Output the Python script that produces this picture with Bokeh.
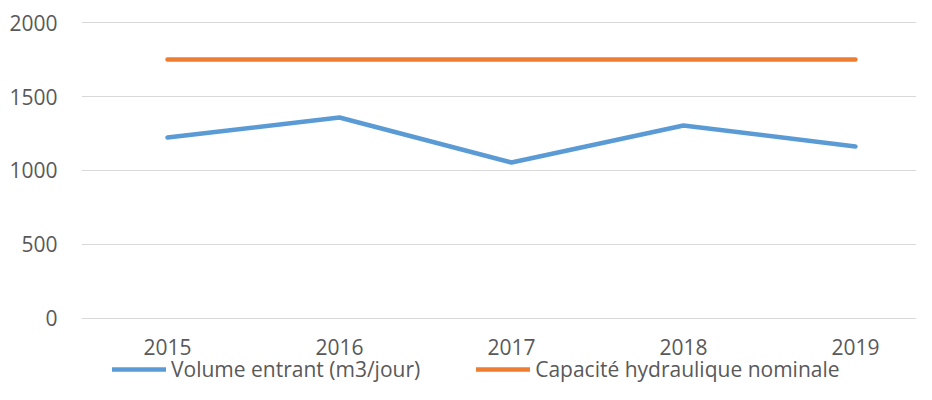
from bokeh.plotting import figure
from bokeh.models import Range1d, FixedTicker, Legend, LegendItem, ColumnDataSource
from bokeh.embed import file_html
from bokeh.resources import INLINE

years = ["2015", "2016", "2017", "2018", "2019"]
volume_entrant = [1223, 1358, 1054, 1304, 1162]
capacite_nominale = [1750, 1750, 1750, 1750, 1750]
y_ticks = [0, 500, 1000, 1500, 2000]

FONT = "Open Sans"
TXT = "#595959"
GRID = "#d9d9d9"

xs = list(range(len(years)))
src = ColumnDataSource(dict(x=xs, vol=volume_entrant, cap=capacite_nominale))

p = figure(width=916, height=384, output_backend="svg", toolbar_location=None,
           x_range=Range1d(-0.5, 4.355), y_range=Range1d(-446, 2067.6),
           min_border_left=81, min_border_right=0, min_border_top=12, min_border_bottom=0)
p.outline_line_color = None
p.background_fill_color = "white"
p.border_fill_color = "white"

r1 = p.line("x", "vol", source=src, line_color="#5B9BD5", line_width=4.5, line_cap="round", line_join="round")
r2 = p.line("x", "cap", source=src, line_color="#ED7D31", line_width=4.5, line_cap="round", line_join="round")

p.xgrid.visible = False
p.ygrid.ticker = FixedTicker(ticks=y_ticks)
p.ygrid.grid_line_color = GRID
p.ygrid.grid_line_width = 1

p.yaxis.ticker = FixedTicker(ticks=y_ticks)
p.yaxis.axis_line_color = None
p.yaxis.major_tick_line_color = None
p.yaxis.major_tick_out = 0
p.yaxis.minor_tick_line_color = None
p.yaxis.minor_tick_out = 0
p.yaxis.major_label_standoff = 24
p.yaxis.major_label_text_font = FONT
p.yaxis.major_label_text_font_size = "21px"
p.yaxis.major_label_text_color = TXT

p.xaxis.fixed_location = 0
p.xaxis.ticker = FixedTicker(ticks=xs)
p.xaxis.major_label_overrides = {i: y for i, y in zip(xs, years)}
p.xaxis.axis_line_color = GRID
p.xaxis.axis_line_width = 1
p.xaxis.major_tick_line_color = None
p.xaxis.major_tick_out = 0
p.xaxis.minor_tick_line_color = None
p.xaxis.minor_tick_out = 0
p.xaxis.major_label_standoff = 21
p.xaxis.major_label_text_font = FONT
p.xaxis.major_label_text_font_size = "21px"
p.xaxis.major_label_text_color = TXT

legend = Legend(items=[LegendItem(label="Volume entrant (m3/jour)", renderers=[r1]),
                       LegendItem(label="Capacité hydraulique nominale", renderers=[r2])],
                orientation="horizontal", location=(31, 1),
                glyph_width=54, glyph_height=20, label_standoff=5, spacing=56,
                padding=0, margin=0, border_line_color=None, background_fill_alpha=0,
                label_text_font=FONT, label_text_font_size="21px", label_text_color=TXT,
                label_text_baseline="middle", label_text_line_height=1.0)
p.add_layout(legend, "center")

open("out.html", "w").write(file_html(p, INLINE))
